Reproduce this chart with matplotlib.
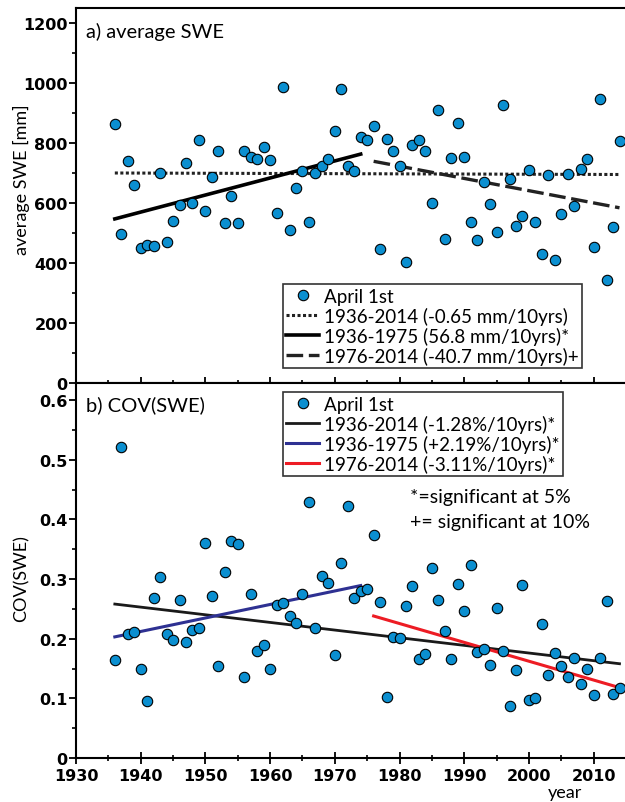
import numpy as np
import matplotlib
matplotlib.use('Agg')
import matplotlib.pyplot as plt
from matplotlib.ticker import MultipleLocator

plt.rcParams['font.family'] = ['Lato', 'DejaVu Sans']

years = np.arange(1936, 2015)

# a) average SWE [mm], April 1st
swe = [864, 497, 741, 661, 452, 460, 459, 700, 472, 542,
       595, 733, 601, 811, 575, 689, 775, 534, 623, 533,
       775, 755, 748, 787, 743, 568, 989, 511, 651, 707,
       537, 700, 725, 747, 842, 981, 723, 708, 820, 811,
       859, 448, 814, 773, 725, 403, 795, 812, 775, 601,
       912, 481, 750, 868, 754, 537, 479, 672, 599, 503,
       927, 681, 523, 558, 710, 537, 430, 695, 412, 564,
       698, 592, 714, 748, 454, 948, 344, 520, 809]

# b) COV(SWE)
cov = [0.164, 0.521, 0.208, 0.212, 0.150, 0.096, 0.268, 0.304, 0.208, 0.198,
       0.264, 0.195, 0.215, 0.218, 0.360, 0.271, 0.154, 0.311, 0.364, 0.358,
       0.136, 0.275, 0.180, 0.190, 0.150, 0.257, 0.260, 0.238, 0.226, 0.275,
       0.429, 0.218, 0.305, 0.294, 0.173, 0.326, 0.422, 0.268, 0.280, 0.284,
       0.373, 0.262, 0.103, 0.203, 0.201, 0.255, 0.288, 0.166, 0.175, 0.319,
       0.264, 0.213, 0.166, 0.292, 0.246, 0.324, 0.177, 0.183, 0.156, 0.252,
       0.179, 0.087, 0.147, 0.290, 0.097, 0.100, 0.225, 0.139, 0.176, 0.154,
       0.135, 0.168, 0.124, 0.149, 0.106, 0.167, 0.263, 0.108, 0.117]

# trend line end points (start year, end year, start value, end value)
trend_a = {'all': (1936, 2014, 701, 696),
           'early': (1936, 1974, 548, 764),
           'late': (1976, 2014, 740, 585)}
trend_b = {'all': (1936, 2014, 0.258, 0.158),
           'early': (1936, 1974, 0.203, 0.289),
           'late': (1976, 2014, 0.238, 0.118)}

lab_a = ['April 1st', '1936-2014 (-0.65 mm/10yrs)',
         '1936-1975 (56.8 mm/10yrs)*', '1976-2014 (-40.7 mm/10yrs)+']
lab_b = ['April 1st', '1936-2014 (-1.28%/10yrs)*',
         '1936-1975 (+2.19%/10yrs)*', '1976-2014 (-3.11%/10yrs)*']

dotc = '#0B8FD0'
W, H = 625, 803
fig = plt.figure(figsize=(W / 100, H / 100), dpi=100)

L = 76 / W
ax1 = fig.add_axes([L, 1 - 384.3 / H, 1 - L, 375 / H])
ax2 = fig.add_axes([L, 1 - 759 / H, 1 - L, 374.7 / H])


def style(ax):
	for s in ['left', 'bottom', 'top']:
		ax.spines[s].set_linewidth(1.5)
	ax.spines['right'].set_visible(False)
	ax.set_xlim(1930, 2014.85)
	ax.xaxis.set_major_locator(MultipleLocator(10))
	ax.xaxis.set_minor_locator(MultipleLocator(5))
	ax.tick_params(axis='x', which='major', direction='inout', length=8, width=1.3, pad=3)
	ax.tick_params(axis='x', which='minor', direction='inout', length=4, width=1.2)
	ax.tick_params(axis='y', which='major', direction='out', length=5, width=1.3, pad=1)
	ax.tick_params(axis='y', which='minor', direction='out', length=3, width=1.2)
	for t in ax.get_xticklabels() + ax.get_yticklabels():
		t.set_fontfamily('DejaVu Sans')
		t.set_fontweight('bold')
		t.set_fontsize(11.5)


def legend(ax, handles, labels, top):
	lg = ax.legend(handles, labels, loc='upper left', bbox_to_anchor=(0.3765, top),
	               borderaxespad=0, fontsize=13.5, handlelength=1.75, handletextpad=0.25,
	               labelspacing=0.1, borderpad=0.2, fancybox=False, framealpha=1,
	               edgecolor='#333333')
	lg.get_frame().set_linewidth(1.2)
	return lg


# ---- panel a
l0, = ax1.plot(years, swe, 'o', color=dotc, mec='black', mew=0.8, ms=7.5, zorder=3)
x0, x1, y0, y1 = trend_a['all']
l1, = ax1.plot([x0, x1], [y0, y1], color='#222222', lw=2.2, ls=(0, (1, 0.8)))
x0, x1, y0, y1 = trend_a['early']
l2, = ax1.plot([x0, x1], [y0, y1], color='black', lw=2.6)
x0, x1, y0, y1 = trend_a['late']
l3, = ax1.plot([x0, x1], [y0, y1], color='#222222', lw=2.4, ls=(0, (5, 1.7)))
ax1.set_ylim(0, 1250)
ax1.yaxis.set_major_locator(MultipleLocator(200))
ax1.yaxis.set_minor_locator(MultipleLocator(100))
style(ax1)
ax1.set_xticklabels([])
ax1.text(0.018, 0.94, 'a) average SWE', transform=ax1.transAxes, fontsize=14.5, va='center')
legend(ax1, [l0, l1, l2, l3], lab_a, 0.2648)

# ---- panel b
m0, = ax2.plot(years, cov, 'o', color=dotc, mec='black', mew=0.8, ms=7.5, zorder=3)
x0, x1, y0, y1 = trend_b['all']
m1, = ax2.plot([x0, x1], [y0, y1], color='#1a1a1a', lw=2.0)
x0, x1, y0, y1 = trend_b['early']
m2, = ax2.plot([x0, x1], [y0, y1], color='#2E3192', lw=2.2)
x0, x1, y0, y1 = trend_b['late']
m3, = ax2.plot([x0, x1], [y0, y1], color='#ED1C24', lw=2.2)
ax2.set_ylim(0, 0.628)
ax2.yaxis.set_major_locator(MultipleLocator(0.1))
ax2.yaxis.set_minor_locator(MultipleLocator(0.05))
ax2.set_yticks(np.arange(0, 0.61, 0.1))
ax2.set_yticklabels(['0', '0.1', '0.2', '0.3', '0.4', '0.5', '0.6'])
style(ax2)
ax2.text(0.018, 0.945, 'b) COV(SWE)', transform=ax2.transAxes, fontsize=14.5, va='center')
legend(ax2, [m0, m1, m2, m3], lab_b, 0.9768)
ax2.text(0.608, 0.6966, '*=significant at 5%', transform=ax2.transAxes, fontsize=14, va='center')
ax2.text(0.608, 0.6325, '+= significant at 10%', transform=ax2.transAxes, fontsize=14, va='center')

# axis labels
fig.text(21 / W, 1 - 180 / H, 'average SWE [mm]', rotation=90, ha='center', va='center',
         fontsize=13, fontstretch='condensed')
fig.text(21 / W, 1 - 579 / H, 'COV(SWE)', rotation=90, ha='center', va='center',
         fontsize=13, fontstretch='condensed')
fig.text(565 / W, 1 - 793 / H, 'year', ha='center', va='center', fontsize=13)

fig.savefig('out.png', dpi=100)
